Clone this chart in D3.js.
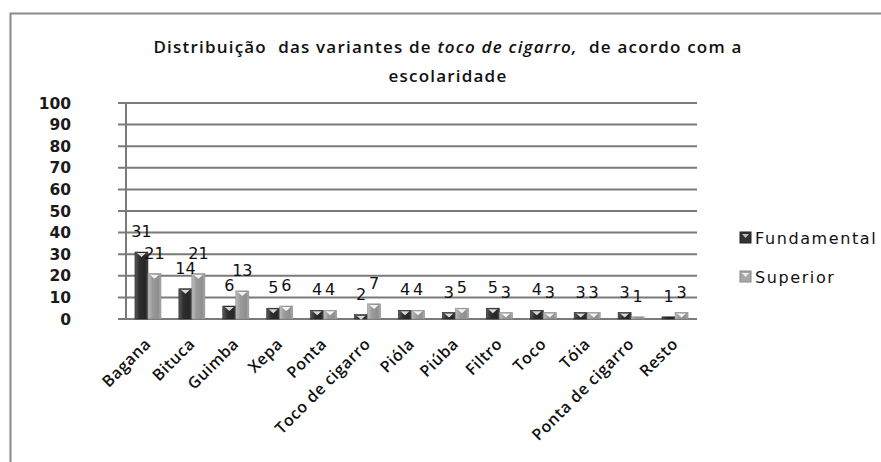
<!DOCTYPE html>
<html><head><meta charset="utf-8">
<script src="https://cdn.jsdelivr.net/npm/d3@7"></script>
<style>
html,body{margin:0;padding:0;background:#fff;}
svg{display:block;}
text{white-space:pre;}
</style></head>
<body>
<svg id="chart" width="881" height="462"></svg>
<script>
const categories = ["Bagana","Bituca","Guimba","Xepa","Ponta","Toco de cigarro","Pióla","Piúba","Filtro","Toco","Tóia","Ponta de cigarro","Resto"];
const fundamental = [31,14,6,5,4,2,4,3,5,4,3,3,1];
const superior    = [21,21,13,6,4,7,4,5,3,3,3,1,3];
const seriesNames = ["Fundamental","Superior"];
const yTicks = [0,10,20,30,40,50,60,70,80,90,100];

const svg = d3.select("#chart");
const W = 881, H = 462;
const plot = {left:126, right:697, top:103, bottom:319};

// frame
svg.append("path").attr("d",`M10.5,${H} L10.5,13.5 L${W},13.5`)
  .attr("fill","none").attr("stroke","#8a8a8a").attr("stroke-width",2);

// title
const title = svg.append("text").attr("x",448).attr("y",53).attr("text-anchor","middle")
  .attr("font-family","Open Sans").attr("font-weight",600).attr("font-size",17)
  .attr("letter-spacing",1.2).attr("fill","#111");
title.append("tspan").text("Distribuição  das variantes de ");
title.append("tspan").attr("font-style","italic").text("toco de cigarro,");
title.append("tspan").text("  de acordo com a");
svg.append("text").attr("x",448).attr("y",82).attr("text-anchor","middle")
  .attr("font-family","Open Sans").attr("font-weight",600).attr("font-size",17)
  .attr("letter-spacing",1.2).attr("fill","#111")
  .text("escolaridade");

const y = d3.scaleLinear().domain([0,100]).range([plot.bottom, plot.top]);
const x0 = d3.scaleBand().domain(categories).range([plot.left, plot.right]).paddingInner(0).paddingOuter(0);
const x1 = d3.scaleBand().domain(seriesNames).range([x0.bandwidth()/2-13, x0.bandwidth()/2+13]);

// gridlines
svg.append("g").selectAll("line").data(yTicks).join("line")
  .attr("x1",plot.left-8).attr("x2",plot.right)
  .attr("y1",d=>y(d)).attr("y2",d=>y(d))
  .attr("stroke","#7a7a7a").attr("stroke-width",2);
// y axis line
svg.append("line").attr("x1",plot.left).attr("x2",plot.left).attr("y1",plot.top).attr("y2",plot.bottom)
  .attr("stroke","#7a7a7a").attr("stroke-width",2);

// y tick labels
svg.append("g").selectAll("text").data(yTicks).join("text")
  .attr("x",71).attr("y",d=>y(d)).attr("dy","0.36em").attr("text-anchor","end")
  .attr("font-family","DejaVu Sans").attr("font-weight","bold").attr("font-size",15.5).attr("fill","#1a1a1a")
  .text(d=>d);

// gradients
const defs = svg.append("defs");
function grad(id, stops){
  const g = defs.append("linearGradient").attr("id",id).attr("x1","0").attr("x2","1").attr("y1","0").attr("y2","0");
  stops.forEach(s=>g.append("stop").attr("offset",s[0]).attr("stop-color",s[1]));
}
grad("gF",[[0,"#5a5a5a"],[0.35,"#2e2e2e"],[0.8,"#262626"],[1,"#4a4a4a"]]);
grad("gS",[[0,"#bdbdbd"],[0.35,"#9a9a9a"],[0.8,"#8e8e8e"],[1,"#b0b0b0"]]);

const rows = categories.map((c,i)=>({cat:c, vals:[
  {s:"Fundamental", v:fundamental[i]},
  {s:"Superior", v:superior[i]}
]}));

const groups = svg.append("g").selectAll("g").data(rows).join("g")
  .attr("transform",d=>`translate(${x0(d.cat)},0)`);

const bw = x1.bandwidth();
groups.selectAll("rect.bar").data(d=>d.vals).join("rect").attr("class","bar")
  .attr("x",d=>x1(d.s)).attr("width",bw)
  .attr("y",d=>y(d.v)).attr("height",d=>plot.bottom-y(d.v))
  .attr("fill",d=>d.s==="Fundamental"?"url(#gF)":"url(#gS)")
  .attr("stroke",d=>d.s==="Fundamental"?"#222":"#888").attr("stroke-width",0.6);
// little top highlights (3D cylinder caps)
groups.selectAll("path.cap").data(d=>d.vals.filter(v=>plot.bottom-y(v.v)>4)).join("path").attr("class","cap")
  .attr("d",d=>{const l=x1(d.s)+2, r=x1(d.s)+bw-2, t=y(d.v)+1, m=(l+r)/2;
    return `M${l},${t} L${r},${t} L${m},${t+4} Z`;})
  .attr("fill",d=>d.s==="Fundamental"?"#d8d8d8":"#f4f4f4");

// value labels
groups.selectAll("text.val").data(d=>d.vals).join("text").attr("class","val")
  .attr("x",d=>x1(d.s)+bw/2).attr("y",d=>y(d.v)-15)
  .attr("text-anchor","middle").attr("font-family","DejaVu Sans").attr("font-size",16).attr("fill","#111")
  .text(d=>d.v);

// category labels
svg.append("g").selectAll("text").data(categories).join("text")
  .attr("transform",d=>`translate(${x0(d)+x0.bandwidth()/2+4},345) rotate(-45)`)
  .attr("text-anchor","end").attr("font-family","Open Sans").attr("font-weight",600).attr("font-size",16)
  .attr("letter-spacing",0.6).attr("fill","#111")
  .text(d=>d);

// legend
const leg = svg.append("g").selectAll("g").data(seriesNames).join("g")
  .attr("transform",(d,i)=>`translate(740,${238+i*39})`);
leg.append("rect").attr("x",0).attr("y",-6).attr("width",11).attr("height",11)
  .attr("fill",d=>d==="Fundamental"?"#333":"#a8a8a8").attr("stroke",d=>d==="Fundamental"?"#222":"#888");
leg.append("path").attr("d","M2,-4 L9,-4 L5.5,0 Z").attr("fill",d=>d==="Fundamental"?"#bbb":"#eee");
leg.append("text").attr("x",15).attr("y",0).attr("dy","0.36em")
  .attr("font-family","DejaVu Sans").attr("font-size",16).attr("letter-spacing",1.6).attr("fill","#111")
  .text(d=>d);
</script>
</body></html>
